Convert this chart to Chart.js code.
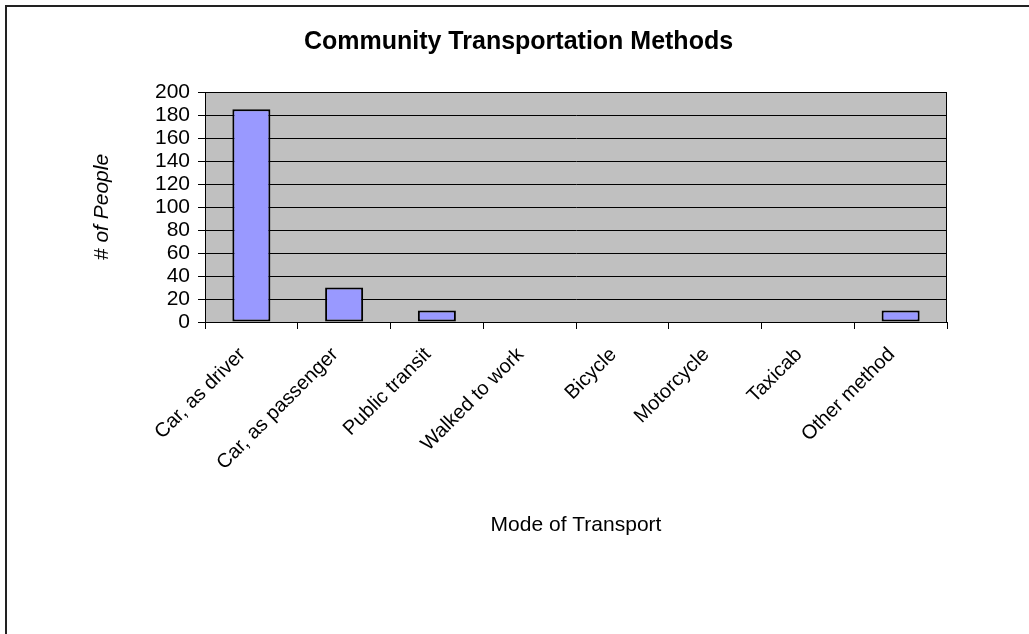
<!DOCTYPE html>
<html>
<head>
<meta charset="utf-8">
<script src="https://cdn.jsdelivr.net/npm/chart.js@4"></script>
<style>
    body { margin: 0; background: #fff; }
    #frame {
        position: absolute; left: 5px; top: 5px; width: 1100px; height: 700px;
        border-left: 2px solid #222; border-top: 2px solid #222;
    }
    #my-chart { position: absolute; left: 0; top: 0; }
</style>
</head>
<body>
<div id="frame"></div>
<canvas id="my-chart" width="1029" height="634"></canvas>
<script>
const categories = ["Car, as driver", "Car, as passenger", "Public transit", "Walked to work",
    "Bicycle", "Motorcycle", "Taxicab", "Other method"];
const peopleCounts = [185, 30, 10, 0, 0, 0, 0, 10];
const yMin = 0;
const yMax = 200;
const yStep = 20;

const fontFamily = "'Liberation Sans', Arial, sans-serif";

// gray plot area with a dark frame, like the old Excel charts
const plotBackground = {
    id: "plotBackground",
    beforeDraw(chart) {
        const { ctx, chartArea: a } = chart;
        ctx.save();
        ctx.fillStyle = "#c0c0c0";
        ctx.fillRect(a.left, a.top, a.width, a.height);
        ctx.restore();
    },
    beforeDatasetsDraw(chart) {
        const { ctx, chartArea: a } = chart;
        ctx.save();
        ctx.strokeStyle = "#000";
        ctx.lineWidth = 1;
        ctx.strokeRect(a.left + 0.5, a.top + 0.5, a.width - 1, a.height);
        ctx.restore();
    }
};

new Chart(document.getElementById("my-chart"), {
    type: "bar",
    data: {
        labels: categories,
        datasets: [{
            label: "# of People",
            data: peopleCounts,
            backgroundColor: "#9999ff",
            borderColor: "#000",
            borderWidth: 2,
            borderSkipped: false,
            categoryPercentage: 1,
            barPercentage: 0.41
        }]
    },
    options: {
        responsive: false,
        animation: false,
        layout: { padding: { left: 90, right: 82, top: 0, bottom: 96 } },
        plugins: {
            legend: { display: false },
            tooltip: { enabled: false },
            title: {
                display: true,
                text: "Community Transportation Methods",
                color: "#000",
                font: { family: fontFamily, size: 25, weight: "bold" },
                padding: { top: 27, bottom: 35 }
            }
        },
        scales: {
            x: {
                offset: true,
                grid: {
                    offset: true,
                    drawOnChartArea: false,
                    color: "#000",
                    tickColor: "#000",
                    tickLength: 7
                },
                border: { color: "#000", width: 1 },
                ticks: {
                    autoSkip: false,
                    minRotation: 45,
                    maxRotation: 45,
                    color: "#000",
                    padding: 14,
                    labelOffset: -9,
                    font: { family: fontFamily, size: 20 }
                },
                title: {
                    display: true,
                    text: "Mode of Transport",
                    color: "#000",
                    padding: 0,
                    font: { family: fontFamily, size: 21 }
                },
                afterFit(scale) { scale.height = 216; }
            },
            y: {
                min: yMin,
                max: yMax,
                grid: {
                    color: "#000",
                    tickColor: "#000",
                    tickLength: 7
                },
                border: { color: "#000", width: 1 },
                ticks: {
                    stepSize: yStep,
                    autoSkip: false,
                    color: "#000",
                    padding: 8,
                    font: { family: fontFamily, size: 21 }
                },
                title: {
                    display: true,
                    text: "# of People",
                    color: "#000",
                    padding: 0,
                    font: { family: fontFamily, size: 21, style: "italic" }
                },
                afterFit(scale) { scale.width = 115; }
            }
        }
    },
    plugins: [plotBackground]
});
</script>
</body>
</html>
